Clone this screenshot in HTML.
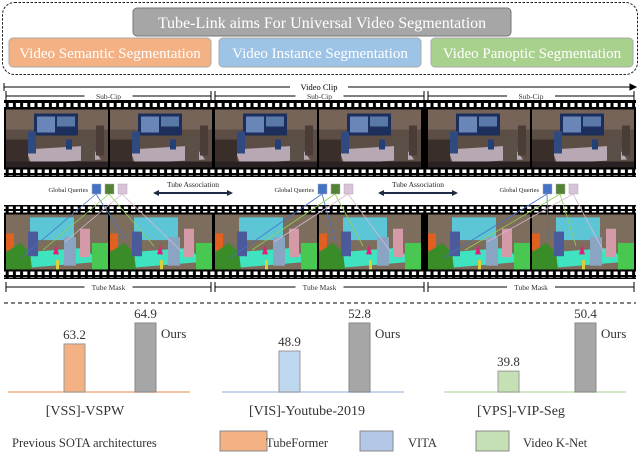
<!DOCTYPE html>
<html><head><meta charset="utf-8"><style>
body{margin:0;background:#fff}
svg{display:block;font-family:"Liberation Serif",serif}
</style></head><body>
<svg id="fig" width="640" height="456" viewBox="0 0 640 456">
<defs>
<pattern id="holes" x="0" y="0" width="7.2" height="6" patternUnits="userSpaceOnUse"><rect x="1.5" y="1" width="4.2" height="4" fill="#fff"/></pattern>
<g id="rgbframe">
<rect x="0" y="0" width="102" height="58" fill="#5d4e45"/>
<rect x="0" y="0" width="102" height="20" fill="#766458"/>
<rect x="28" y="4" width="44" height="22" fill="#1c2f5c"/>
<rect x="31" y="7" width="18" height="16" fill="#6a86b8"/>
<rect x="51" y="7" width="18" height="10" fill="#5a78a8"/>
<polygon points="20,40 85,36 95,50 25,54" fill="#b7a8b4"/>
<rect x="0" y="30" width="22" height="28" fill="#3a2e2a"/>
<rect x="22" y="22" width="8" height="22" fill="#2f4a80"/>
<rect x="75" y="28" width="14" height="26" fill="#5a5048"/>
<rect x="90" y="16" width="8" height="30" fill="#4a3c36"/>
<rect x="60" y="30" width="6" height="10" fill="#233f78"/>
<rect x="0" y="52" width="102" height="6" fill="#2a2222"/>
</g>
<g id="segframe">
<rect x="0" y="0" width="102" height="58" fill="#7c6d5d"/>
<rect x="24" y="3" width="44" height="24" fill="#5cc6d6"/>
<polygon points="18,40 80,35 92,50 24,56" fill="#3fe3c0"/>
<rect x="0" y="20" width="8" height="18" fill="#e06020"/>
<polygon points="0,40 14,30 24,40 26,58 0,58" fill="#3a8c28"/>
<rect x="22" y="18" width="10" height="26" fill="#4a5a9a"/>
<rect x="58" y="24" width="12" height="30" fill="#8aa4c4"/>
<rect x="74" y="15" width="10" height="30" fill="#d49aa8"/>
<polygon points="50,32 53,42 47,42" fill="#e0207a"/>
<rect x="50" y="48" width="3" height="10" fill="#d8d03a"/>
<rect x="86" y="30" width="16" height="28" fill="#48c850"/>
</g>
</defs>

<!-- top box -->
<rect x="2.5" y="2.5" width="635" height="72" rx="12" fill="none" stroke="#222" stroke-dasharray="2.5,1.5"/>
<rect x="133" y="8" width="378" height="28" rx="4" fill="#a6a6a6" stroke="#777"/>
<text x="322" y="28" font-size="16" fill="#fff" text-anchor="middle">Tube-Link aims For Universal Video Segmentation</text>
<rect x="9" y="38" width="202" height="29" rx="4" fill="#f4b183" stroke="#aaa"/>
<text x="110" y="58" font-size="15" fill="#fff" text-anchor="middle">Video Semantic Segmentation</text>
<rect x="219" y="38" width="202" height="29" rx="4" fill="#9dc3e6" stroke="#aaa"/>
<text x="320" y="58" font-size="15" fill="#fff" text-anchor="middle">Video Instance Segmentation</text>
<rect x="431" y="38" width="202" height="29" rx="4" fill="#a9d18e" stroke="#aaa"/>
<text x="532" y="58" font-size="15" fill="#fff" text-anchor="middle">Video Panoptic Segmentation</text>

<!-- video clip arrow -->
<g stroke="#000" stroke-width="1">
<line x1="4" y1="87" x2="290" y2="87"/><line x1="348" y1="87" x2="635" y2="87"/>
<line x1="4" y1="83" x2="4" y2="91"/><polygon points="636,87 630,84 630,90" fill="#000"/>
</g>
<rect x="290" y="80" width="58" height="12" fill="#fff"/>
<text x="319" y="90" font-size="8.5" text-anchor="middle">Video Clip</text>

<g id="subclips"></g>
<g id="films"></g>
<g id="queries"></g>

<line x1="4" y1="303" x2="636" y2="303" stroke="#333" stroke-width="1.2" stroke-dasharray="4,3"/>
<g id="charts"></g>

<!-- legend -->
<text x="12" y="447" font-size="12.5" fill="#333">Previous SOTA architectures</text>
<rect x="220" y="431" width="47" height="20" fill="#f4b183" stroke="#888"/>
<text x="266" y="447" font-size="12.5" fill="#333">TubeFormer</text>
<rect x="360" y="431" width="33" height="20" fill="#b4c7e7" stroke="#888"/>
<text x="408" y="447" font-size="12.5" fill="#333">VITA</text>
<rect x="476" y="431" width="33" height="20" fill="#c5e0b4" stroke="#888"/>
<text x="523" y="447" font-size="12.5" fill="#333">Video K-Net</text>
</svg>
<script>
const NS="http://www.w3.org/2000/svg";
function mk(tag,attrs,parent){const e=document.createElementNS(NS,tag);for(const k in attrs)e.setAttribute(k,attrs[k]);parent.appendChild(e);return e;}
const clipX=[4,213,426,636];

// sub-clip and tube-mask brackets
const sc=document.getElementById('subclips');
function bracket(y,label,name){
 for(let i=0;i<3;i++){
  const a=clipX[i]+2,b=clipX[i+1]-2,m=(a+b)/2;
  const g=mk('g',{},sc);
  
  
  mk('line',{x1:a,y1:y,x2:m-24,y2:y,stroke:'#000'},g);
  mk('line',{x1:m+24,y1:y,x2:b,y2:y,stroke:'#000'},g);
  mk('line',{x1:a,y1:y-5,x2:a,y2:y+5,stroke:'#000'},g);
  mk('line',{x1:b,y1:y-5,x2:b,y2:y+5,stroke:'#000'},g);
  const t=mk('text',{x:m,y:y+3,'font-size':7.5,'text-anchor':'middle',fill:'#333'},g);
  t.textContent=label;
 }
}
bracket(96,'Sub-Cip','sub-clip-bracket');
bracket(287,'Tube Mask','tube-mask-bracket');

// film strips
const fl=document.getElementById('films');
function film(y0,h,sym,name){
 const g=mk('g',{},fl);
 
 
 mk('rect',{x:4,y:y0,width:632,height:h,fill:'#000'},g);
 mk('rect',{x:4,y:y0+1.5,width:632,height:6,fill:'url(#holes)'},g);
 mk('rect',{x:4,y:y0+h-7.5,width:632,height:6,fill:'url(#holes)'},g);
 for(let i=0;i<3;i++){
  for(let j=0;j<2;j++){
   const x=clipX[i]+2+j*104;
   const u=mk('use',{href:'#'+sym,transform:`translate(${x},${y0+9.5}) scale(1.0,${(h-19)/58})`},g);
   
   
  }
 }
}
film(100,77,'rgbframe','rgb-film-strip');
film(205,74,'segframe','segmentation-film-strip');

// global queries
const q=document.getElementById('queries');
const qcol=['#4472c4','#548235','#d9c3d9'];
const lcol=['#4472c4','#92d050','#d9b8d0'];
const qx=[92,318,543];
for(let i=0;i<3;i++){
 const t=mk('text',{x:qx[i]-4,y:192,'font-size':6.5,'text-anchor':'end',fill:'#222'},q);
 t.textContent='Global Queries';
 
 
 for(let k=0;k<3;k++){
  const x=qx[i]+k*13;
  const base=clipX[i]+2;
  mk('line',{x1:x+4,y1:194,x2:base+15+k*22,y2:258-k*8,stroke:lcol[k],'stroke-width':0.8},q);
  mk('line',{x1:x+4,y1:194,x2:base+120+k*28,y2:240+k*6,stroke:lcol[k],'stroke-width':0.8},q);
  const r=mk('rect',{x:x,y:184,width:9,height:10,fill:qcol[k],stroke:'#aaa','stroke-width':0.5},q);
  
  
 }
}
for(const ax of [153,378]){
 const g=mk('g',{},q);
 
 
 const t=mk('text',{x:ax+40,y:187,'font-size':7.5,'text-anchor':'middle',fill:'#222'},g);
 t.textContent='Tube Association';
 mk('line',{x1:ax+4,y1:193,x2:ax+76,y2:193,stroke:'#1f2a44','stroke-width':2},g);
 mk('polygon',{points:`${ax},193 ${ax+6},190 ${ax+6},196`,fill:'#1f2a44'},g);
 mk('polygon',{points:`${ax+80},193 ${ax+74},190 ${ax+74},196`,fill:'#1f2a44'},g);
}

// charts
const datasets=['[VSS]-VSPW','[VIS]-Youtube-2019','[VPS]-VIP-Seg'];
const prevValues=[63.2,48.9,39.8];
const oursValues=[64.9,52.8,50.4];
const axisMin=[59.3,43.2,35.2];
const axisMax=[64.9,52.8,50.4];
const prevFill=['#f4b183','#bdd7ee','#c5e0b4'];
const baseStroke=['#f4b183','#b4c7e7','#c5e0b4'];
const chartLeft=[8,222,444];
const chartW=182, baseY=392, fullH=69;
const ch=document.getElementById('charts');
function yScale(i,v){return baseY-(v-axisMin[i])/(axisMax[i]-axisMin[i])*fullH;}
for(let i=0;i<3;i++){
 const L=chartLeft[i];
 const pX=L+[56,57,54][i], oX=L+[127,127,131][i];
 const bl=mk('line',{x1:L,y1:baseY,x2:L+chartW,y2:baseY,stroke:baseStroke[i],'stroke-width':1.5},ch);
 
 
 const yp=yScale(i,prevValues[i]), yo=yScale(i,oursValues[i]);
 const b1=mk('rect',{x:pX,y:yp,width:21,height:baseY-yp,fill:prevFill[i],stroke:'#999'},ch);
 
 
 const b2=mk('rect',{x:oX,y:yo,width:21,height:baseY-yo,fill:'#a6a6a6',stroke:'#888'},ch);
 
 
 const t1=mk('text',{x:pX+10.5,y:yp-5,'font-size':13,'text-anchor':'middle',fill:'#333'},ch);
 t1.textContent=prevValues[i].toFixed(1);
 
 
 const t2=mk('text',{x:oX+10.5,y:yo-5,'font-size':13,'text-anchor':'middle',fill:'#333'},ch);
 t2.textContent=oursValues[i].toFixed(1);
 
 
 const t3=mk('text',{x:oX+26,y:yo+15,'font-size':13,fill:'#333'},ch);
 t3.textContent='Ours';
 
 
 const t4=mk('text',{x:L+chartW/2-14+[0,8,0][i],y:415,'font-size':14,'text-anchor':'middle',fill:'#333'},ch);
 t4.textContent=datasets[i];
 
 
}
</script>
</body></html>
